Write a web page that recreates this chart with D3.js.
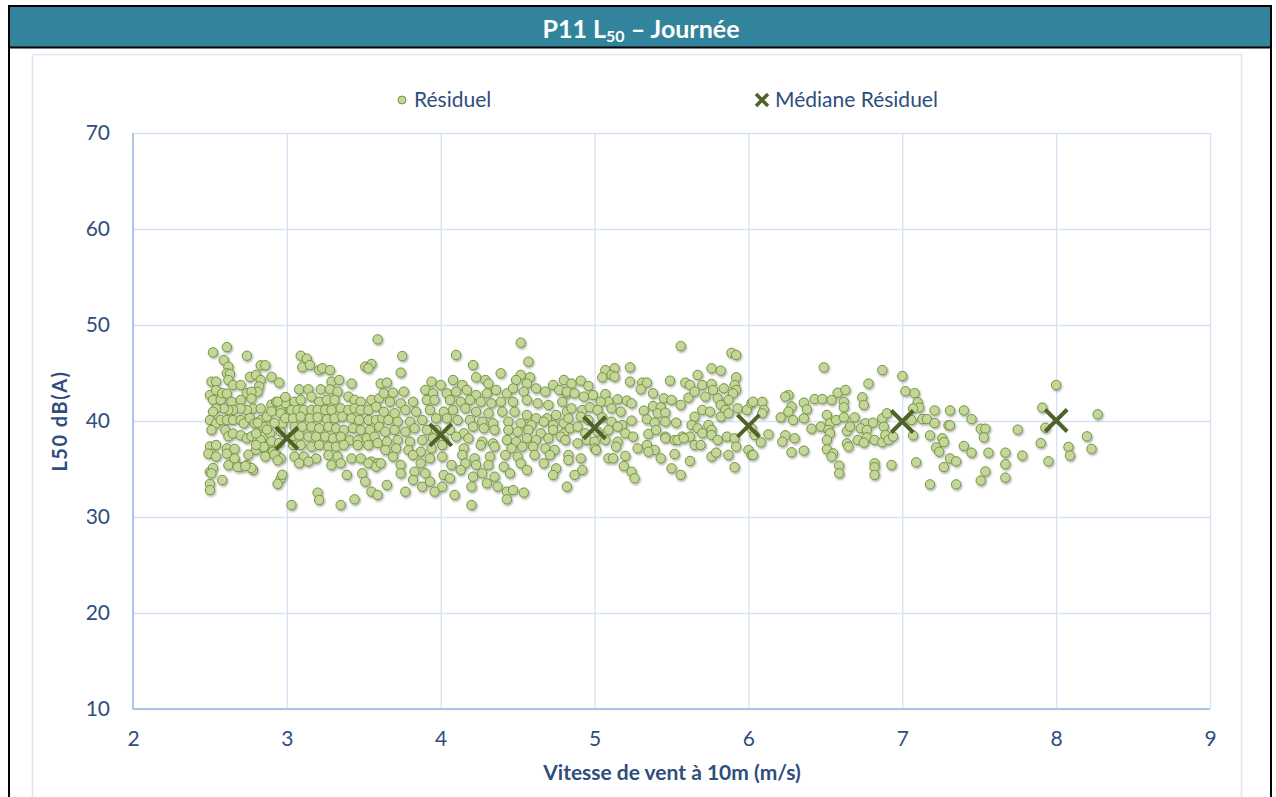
<!DOCTYPE html>
<html>
<head>
<meta charset="utf-8">
<script src="https://cdn.jsdelivr.net/npm/d3@7"></script>
<style>
  body { margin: 0; background: #fff; }
  text { font-family: Lato, "Open Sans", sans-serif; }
</style>
</head>
<body>
<div id="chart"></div>
<script>
// residual points, grouped by wind speed band [wind (m/s), L50 dB(A)]
var res25_30 = [
  [2.52,47.15],[2.61,47.7],[2.74,46.8],[2.59,46.35],[2.62,45.65],[2.61,44.97],[2.63,44.9],[2.62,44.27],[2.65,43.75],[2.70,43.75],
  [2.51,44.1],[2.54,44.1],[2.76,44.6],[2.80,44.8],[2.83,44.27],[2.82,43.6],[2.81,43.05],[2.83,45.8],[2.86,45.8],[2.90,44.6],[2.95,44.0],
  [2.50,42.7],[2.54,43.2],[2.52,42.2],[2.57,42.2],[2.58,42.9],[2.61,42.85],[2.64,42.0],[2.70,42.2],[2.74,42.9],[2.77,43.05],
  [2.77,42.35],[2.78,41.3],[2.74,41.15],[2.70,41.3],[2.65,41.15],[2.62,41.15],[2.59,41.3],[2.54,41.3],[2.52,40.97],
  [2.50,40.1],[2.54,39.75],[2.51,39.06],[2.57,40.1],[2.61,40.1],[2.65,40.1],[2.70,40.1],[2.72,39.75],[2.76,40.3],[2.79,39.75],
  [2.83,40.1],[2.85,39.4],[2.87,40.45],[2.83,41.3],[2.90,41.7],[2.93,42.0],[2.96,41.15],[2.99,41.85],[3.0,40.45],
  [2.60,39.06],[2.62,38.4],[2.65,38.7],[2.70,38.5],[2.74,38.2],[2.77,38.4],[2.81,38.0],[2.85,38.4],[2.89,38.7],[2.90,37.7],[2.96,38.9],[2.97,39.75],
  [2.50,37.35],[2.51,36.6],[2.49,36.6],[2.54,36.3],[2.61,37.15],[2.61,36.6],[2.54,37.5],[2.66,35.9],[2.70,35.2],[2.74,35.4],[2.78,34.9],
  [2.80,37.0],[2.85,37.15],[2.86,36.3],[2.91,36.8],[2.93,36.6],[2.96,36.1],
  [2.50,34.7],[2.52,35.1],[2.51,34.55],[2.50,33.45],[2.50,32.8],[2.58,33.85],[2.62,35.4],[2.68,35.2],[2.96,34.0],[2.97,34.4],[2.94,33.45],[3.03,31.25],
  [2.94,42.0],[2.99,42.5],[2.96,40.8],[2.90,41.0],[2.92,39.8],[2.99,40.3],[2.87,39.1],[2.83,38.0],[2.90,37.9],[2.85,37.3],[2.95,37.7],
  [2.92,36.5],[2.94,35.9],[2.80,37.5],[2.80,38.7],[2.81,39.8],[2.75,36.5],[2.77,35.1],[2.73,35.3],[2.66,36.1],[2.66,37.1]
];
var res30_36 = [
  [3.59,48.5],[3.09,46.8],[3.13,46.5],[3.10,45.6],[3.15,45.83],[3.21,45.3],[3.23,45.5],[3.28,45.3],[3.51,45.66],[3.55,45.94],[3.53,45.5],
  [3.08,43.3],[3.14,43.3],[3.22,43.3],[3.29,44.1],[3.34,44.27],[3.28,43.3],[3.33,43.06],[3.42,43.9],[3.61,43.9],
  [3.05,42.0],[3.09,42.2],[3.16,42.54],[3.21,42.0],[3.26,42.2],[3.31,42.2],[3.40,42.54],[3.44,42.2],[3.48,42.0],[3.55,42.2],[3.60,42.36],
  [3.03,41.15],[3.07,41.15],[3.11,41.15],[3.16,41.15],[3.20,41.15],[3.25,41.15],[3.29,41.15],[3.35,41.32],[3.40,41.15],[3.44,41.32],
  [3.48,41.15],[3.53,41.15],[3.58,41.5],
  [3.04,40.28],[3.09,40.45],[3.15,40.28],[3.20,40.38],[3.26,40.18],[3.31,40.28],[3.36,40.45],[3.42,40.28],[3.47,40.1],[3.53,40.1],[3.58,40.1],[3.62,40.28],
  [3.05,39.4],[3.10,39.4],[3.16,39.4],[3.21,39.24],[3.27,39.4],[3.32,39.24],[3.37,39.07],[3.43,39.24],[3.48,39.07],[3.54,39.07],[3.60,39.4],
  [3.03,38.37],[3.08,38.5],[3.14,38.37],[3.19,38.37],[3.25,38.37],[3.30,38.2],[3.35,38.37],[3.41,38.0],[3.46,38.0],[3.52,38.2],[3.57,38.37],
  [3.04,37.5],[3.09,37.5],[3.16,37.33],[3.21,37.5],[3.27,37.33],[3.32,37.33],[3.37,37.5],[3.46,37.5],[3.53,37.5],[3.59,37.7],
  [3.05,36.3],[3.11,36.3],[3.19,36.1],[3.27,36.46],[3.33,36.3],[3.42,36.1],[3.48,36.1],[3.55,35.77],[3.59,35.6],
  [3.08,35.6],[3.14,35.77],[3.29,35.4],[3.35,35.6],[3.53,35.6],[3.58,35.24],
  [3.39,34.38],[3.49,34.55],[3.51,33.68],[3.55,32.64],[3.59,32.3],[3.20,32.54],[3.21,31.77],[3.35,31.25],[3.44,31.84]
];
var res36_48 = [
  [4.52,48.16],[3.75,46.77],[4.10,46.88],[4.21,45.83],[4.57,46.18],[3.74,45.04],[4.39,44.97],[4.52,44.8],[4.58,44.55],[4.23,44.55],
  [3.65,44.0],[3.94,44.1],[4.0,43.75],[4.08,44.27],[4.14,43.75],[4.29,44.27],[4.31,43.9],[4.49,44.27],[4.56,43.9],[4.73,43.75],[4.80,44.27],
  [3.63,42.88],[3.69,42.95],[3.76,43.06],[3.90,43.23],[3.95,42.88],[4.04,42.88],[4.10,43.06],[4.17,43.23],[4.23,42.7],[4.30,42.88],
  [4.36,43.23],[4.43,42.88],[4.47,43.4],[4.54,43.06],[4.62,43.4],[4.68,43.06],[4.77,43.23],[4.82,42.88],
  [3.67,42.0],[3.74,41.84],[3.82,42.0],[3.91,42.19],[3.96,42.19],[4.06,42.19],[4.13,42.0],[4.19,42.19],[4.26,42.0],[4.33,41.84],
  [4.39,42.0],[4.47,42.0],[4.56,42.19],[4.63,41.84],[4.70,41.67],[4.79,42.0],
  [3.63,40.97],[3.70,40.8],[3.77,41.15],[3.84,40.97],[3.93,41.15],[4.02,40.97],[4.08,41.15],[4.16,41.32],[4.23,40.97],[4.31,40.8],
  [4.40,40.97],[4.48,40.97],[4.56,40.63],[4.62,40.28],[4.69,40.28],[4.75,40.63],[4.82,40.97],
  [3.66,40.1],[3.72,39.93],[3.80,39.93],[3.88,40.1],[3.97,40.28],[4.04,40.28],[4.11,40.1],[4.19,40.1],[4.27,39.93],[4.34,39.76],
  [4.44,39.93],[4.52,39.76],[4.59,39.58],[4.67,39.93],[4.73,39.58],[4.80,39.76],
  [3.64,38.89],[3.70,39.07],[3.77,38.89],[3.83,39.24],[3.91,39.07],[3.97,39.07],[4.06,39.07],[4.15,38.72],[4.21,39.41],[4.28,39.24],
  [4.35,39.07],[4.44,39.07],[4.50,38.89],[4.57,39.07],[4.65,38.72],[4.73,39.07],[4.80,38.72],
  [3.65,37.85],[3.72,38.02],[3.80,37.85],[3.88,38.02],[3.95,38.2],[4.02,38.02],[4.10,38.37],[4.18,38.2],[4.27,37.85],[4.34,37.67],
  [4.43,38.02],[4.49,37.85],[4.56,38.2],[4.62,38.02],[4.70,38.2],[4.78,38.37],
  [3.64,36.98],[3.71,37.15],[3.79,36.98],[3.87,36.8],[3.94,37.15],[4.01,37.5],[4.15,37.15],[4.26,37.5],[4.35,37.33],[4.46,37.15],
  [4.53,37.33],[4.60,37.33],[4.68,37.15],[4.74,36.98],
  [3.69,36.29],[3.82,36.46],[3.93,36.11],[4.01,36.29],[4.14,36.46],[4.22,36.11],[4.32,36.29],[4.42,36.46],[4.50,36.29],[4.61,36.46],[4.71,36.46],[4.83,36.46],
  [3.61,35.59],[3.74,35.42],[3.87,35.59],[4.07,35.42],[4.16,35.59],[4.23,35.42],[4.31,35.42],[4.41,35.24],[4.52,35.59],[4.67,35.59],[4.75,35.07],
  [3.74,34.55],[3.83,34.72],[3.90,34.55],[4.02,34.38],[4.06,34.03],[4.13,34.9],[4.21,34.2],[4.27,34.55],[4.35,34.2],[4.45,34.55],[4.56,34.9],[4.73,34.38],
  [3.65,33.34],[3.77,32.64],[3.82,33.86],[3.88,33.16],[3.96,32.64],[4.01,33.16],[4.09,32.3],[4.20,33.16],[4.30,33.51],[4.37,33.16],
  [4.43,32.64],[4.47,32.8],[4.54,32.54],[4.43,31.84],[4.20,31.25],[3.93,33.68],[4.82,33.16]
];
var res48_60 = [
  [5.56,47.8],[5.89,47.1],[5.92,46.88],[5.07,45.3],[5.13,45.49],[5.23,45.59],[5.76,45.49],[5.82,45.24],[5.05,44.55],[5.11,44.8],[5.13,44.62],[5.67,44.8],[5.92,44.55],
  [4.85,43.9],[4.91,44.2],[4.96,43.65],[5.23,44.1],[5.31,44.0],[5.34,44.0],[5.30,43.3],[5.49,44.2],[5.59,44.0],[5.62,43.75],[5.70,43.75],
  [5.76,43.85],[5.77,43.23],[5.84,43.4],[5.91,43.75],[5.92,43.23],[5.90,42.88],
  [4.82,43.06],[4.87,42.88],[4.93,42.54],[4.99,42.7],[5.07,42.8],[5.15,42.26],[5.21,42.12],[5.09,42.0],[5.04,42.0],[5.38,42.88],
  [5.45,42.36],[5.50,42.19],[5.56,41.67],[5.61,42.43],[5.65,43.06],[5.72,42.54],[5.80,42.36],[5.87,42.19],
  [4.85,41.32],[4.92,41.15],[4.97,41.43],[5.02,41.15],[5.11,41.32],[5.17,40.97],[5.24,41.84],[5.32,41.08],[5.38,41.56],[5.43,41.43],
  [5.41,40.8],[5.46,40.87],[5.65,40.45],[5.70,41.15],[5.75,40.97],[5.82,41.67],[5.85,41.15],[5.93,41.32],[5.99,41.15],[6.02,41.84],
  [4.83,40.28],[4.91,40.45],[4.96,40.1],[5.05,40.38],[5.11,39.93],[5.18,39.58],[5.24,40.04],[5.34,40.18],[5.39,39.83],[5.46,39.93],
  [5.53,39.83],[5.63,39.58],[5.67,39.24],[5.74,39.58],[5.82,40.45],[5.87,40.8],
  [4.84,39.24],[4.89,39.41],[4.94,38.72],[5.02,38.89],[5.09,39.07],[5.15,39.41],[5.20,38.72],[5.25,38.37],[5.35,38.65],[5.40,39.07],
  [5.46,38.37],[5.52,38.02],[5.57,38.37],[5.62,38.37],[5.70,38.72],[5.76,39.07],[5.86,38.37],[5.91,38.2],[6.02,39.24],
  [4.81,38.02],[4.89,37.67],[4.95,38.02],[5.0,37.85],[5.07,38.02],[5.15,37.85],[5.28,37.15],[5.34,37.5],[5.39,36.98],[5.46,38.2],
  [5.54,38.02],[5.58,38.2],[5.65,37.5],[5.69,37.5],[5.76,38.54],[5.80,38.02],
  [4.83,35.94],[4.91,36.11],[5.0,37.15],[5.01,36.98],[5.09,36.11],[5.14,37.33],[5.20,36.36],[5.12,36.11],[5.35,36.8],[5.43,36.11],
  [5.52,36.56],[5.62,35.84],[5.76,36.29],[5.79,36.7],[5.87,36.46],[5.92,37.33],[6.0,36.98],[6.02,36.46],
  [4.87,34.38],[4.92,34.9],[5.19,35.3],[5.24,34.72],[5.26,34.03],[5.50,35.07],[5.56,34.38],[5.91,35.18]
];
var res60_70 = [
  [6.49,45.59],[6.87,45.3],[7.0,44.69],[6.78,43.9],
  [6.26,42.7],[6.24,42.54],[6.28,41.5],[6.36,41.91],[6.43,42.29],[6.48,42.29],[6.54,42.19],[6.58,42.95],[6.63,43.23],[6.62,42.0],[6.62,41.43],[6.74,42.47],[6.75,41.67],
  [6.03,42.0],[6.09,42.0],[6.10,41.15],[6.09,40.8],[6.21,40.38],[6.26,40.97],[6.29,40.1],[6.36,40.28],[6.38,41.22],[6.41,39.2],[6.47,39.41],
  [6.51,40.63],[6.53,39.76],[6.57,40.1],[6.62,40.38],[6.69,40.38],[6.76,39.76],[6.81,39.83],[6.87,40.28],[6.90,40.8],[6.88,39.41],
  [6.04,38.54],[6.08,37.78],[6.13,38.61],[6.24,38.51],[6.22,37.85],[6.30,38.2],[6.52,39.07],[6.53,38.72],[6.64,38.96],[6.66,39.41],
  [6.73,39.24],[6.77,39.07],[6.77,38.3],[6.71,38.02],[6.75,37.75],[6.82,38.02],[6.87,37.78],[6.89,38.54],[6.91,38.02],[6.94,38.37],
  [6.64,37.67],[6.65,37.33],[6.51,38.02],[6.51,37.05],[6.55,36.63],[6.54,36.29],[6.28,36.74],[6.36,36.91],[6.03,36.46],
  [6.59,35.35],[6.59,34.55],[6.82,35.59],[6.82,35.18],[6.82,34.38],[6.93,35.42]
];
var res70_83 = [
  [7.02,43.1],[7.08,42.9],[7.10,41.95],[7.11,41.4],[7.07,41.3],[7.06,40.1],[7.07,38.5],[7.09,35.7],[7.13,40.2],[7.16,40.2],[7.18,38.5],[7.18,33.4],
  [7.21,41.1],[7.21,39.8],[7.30,39.55],[7.31,39.55],[7.26,38.2],[7.27,37.8],[7.40,37.4],[7.45,36.7],[7.22,37.25],[7.24,36.8],
  [7.31,36.1],[7.35,35.8],[7.27,35.2],[7.35,33.4],[7.31,41.1],[7.40,41.1],[7.45,40.2],
  [7.51,39.2],[7.54,39.2],[7.53,38.3],[7.56,36.7],[7.54,34.75],[7.51,33.8],
  [7.67,36.7],[7.67,35.5],[7.67,34.1],[7.75,39.1],[7.78,36.4],
  [8.0,43.75],[7.91,41.4],[8.27,40.7],[7.93,39.3],[7.90,37.7],[7.95,35.8],[8.08,37.3],[8.09,36.4],[8.20,38.4],[8.23,37.1]
];

// median of residual per wind speed
var medWind = [3, 4, 5, 6, 7, 8];
var medL50 = [38.2, 38.55, 39.3, 39.5, 39.95, 40.05];

var xTicks = [2, 3, 4, 5, 6, 7, 8, 9];
var yTicks = [10, 20, 30, 40, 50, 60, 70];

var W = 1276, H = 797;
var plot = {left: 133, right: 1210, top: 133, bottom: 709};
var axisColor = "#2f4d7d";

var svg = d3.select("#chart").append("svg")
  .attr("width", W).attr("height", H);

var defs = svg.append("defs");
var f = defs.append("filter").attr("id", "shadow")
  .attr("x", "-50%").attr("y", "-50%").attr("width", "200%").attr("height", "200%");
f.append("feDropShadow").attr("dx", 1).attr("dy", 1.5).attr("stdDeviation", 0.9)
  .attr("flood-color", "#000").attr("flood-opacity", 0.35);

// outer frame + title bar
svg.append("rect").attr("x", 9).attr("y", 6).attr("width", 1262).attr("height", 41)
  .attr("fill", "#31849b");
svg.append("rect").attr("x", 9).attr("y", 6).attr("width", 1262).attr("height", 800)
  .attr("fill", "none").attr("stroke", "#000").attr("stroke-width", 2);
svg.append("line").attr("x1", 9).attr("x2", 1271).attr("y1", 47.5).attr("y2", 47.5)
  .attr("stroke", "#000").attr("stroke-width", 2);

var title = svg.append("text").attr("x", 641).attr("y", 38)
  .attr("text-anchor", "middle").attr("fill", "#fff")
  .attr("font-size", 25).attr("font-weight", "bold");
title.append("tspan").text("P11 L");
title.append("tspan").attr("font-size", 16).attr("dy", 4).text("50");
title.append("tspan").attr("dy", -4).text(" \u2013 Journée");

// chart area
svg.append("rect").attr("x", 32.5).attr("y", 54.5).attr("width", 1209).attr("height", 760)
  .attr("fill", "#fff").attr("stroke", "#dce6f2").attr("stroke-width", 1.5);

var x = d3.scaleLinear().domain([2, 9]).range([plot.left, plot.right]);
var y = d3.scaleLinear().domain([10, 70]).range([plot.bottom, plot.top]);

// grid
var gx = svg.append("g")
  .attr("transform", "translate(0," + plot.bottom + ")")
  .call(d3.axisBottom(x).tickValues(xTicks).tickSize(-(plot.bottom - plot.top)).tickFormat(""));
var gy = svg.append("g")
  .attr("transform", "translate(" + plot.left + ",0)")
  .call(d3.axisLeft(y).tickValues(yTicks).tickSize(-(plot.right - plot.left)).tickFormat(""));
[gx, gy].forEach(function(g) {
  g.select(".domain").remove();
  g.selectAll(".tick line").attr("stroke", "#d6e2f3").attr("stroke-width", 1.3);
});

// axis lines
svg.append("line").attr("x1", plot.left).attr("x2", plot.left)
  .attr("y1", plot.top).attr("y2", plot.bottom + 1)
  .attr("stroke", "#adc5e7").attr("stroke-width", 2);
svg.append("line").attr("x1", plot.left).attr("x2", plot.right)
  .attr("y1", plot.bottom).attr("y2", plot.bottom)
  .attr("stroke", "#adc5e7").attr("stroke-width", 2);

// tick labels
var lx = svg.append("g")
  .attr("transform", "translate(0," + plot.bottom + ")")
  .call(d3.axisBottom(x).tickValues(xTicks).tickSize(0).tickPadding(22).tickFormat(d3.format("d")));
var ly = svg.append("g")
  .attr("transform", "translate(" + plot.left + ",0)")
  .call(d3.axisLeft(y).tickValues(yTicks).tickSize(0).tickPadding(23).tickFormat(d3.format("d")));
[lx, ly].forEach(function(g) {
  g.select(".domain").remove();
  g.selectAll("text").attr("font-family", "Lato, sans-serif")
    .attr("font-size", 21).attr("fill", axisColor);
});

// axis titles
svg.append("text").attr("x", 672).attr("y", 780).attr("text-anchor", "middle")
  .attr("font-size", 21).attr("font-weight", "bold").attr("fill", axisColor)
  .text("Vitesse de vent à 10m (m/s)");
svg.append("text").attr("transform", "translate(67,421) rotate(-90)")
  .attr("text-anchor", "middle")
  .attr("font-size", 20).attr("font-weight", "bold").attr("fill", axisColor)
  .attr("letter-spacing", 1.5)
  .text("L50 dB(A)");

// residual points
var allPts = res25_30.concat(res30_36, res36_48, res48_60, res60_70, res70_83);
svg.append("g").attr("filter", "url(#shadow)")
  .selectAll("circle").data(allPts).enter().append("circle")
  .attr("cx", function(d) { return x(d[0]); })
  .attr("cy", function(d) { return y(d[1]); })
  .attr("r", 4.7)
  .attr("fill", "#c4d79b").attr("stroke", "#77933c").attr("stroke-width", 1);

// median markers
var xMark = function(cx, cy, s) {
  return "M" + (cx - s) + "," + (cy - s) + "L" + (cx + s) + "," + (cy + s) +
         "M" + (cx - s) + "," + (cy + s) + "L" + (cx + s) + "," + (cy - s);
};
svg.append("g").selectAll("path").data(medWind).enter().append("path")
  .attr("d", function(d, i) { return xMark(x(d), y(medL50[i]), 11); })
  .attr("stroke", "#4f6228").attr("stroke-width", 4).attr("fill", "none");

// legend
svg.append("circle").attr("cx", 402).attr("cy", 100).attr("r", 4)
  .attr("fill", "#c4d79b").attr("stroke", "#77933c").attr("stroke-width", 1);
svg.append("text").attr("x", 414).attr("y", 107).attr("font-size", 21).attr("fill", axisColor)
  .text("Résiduel");
svg.append("path").attr("d", xMark(762, 100, 6))
  .attr("stroke", "#4f6228").attr("stroke-width", 3.5).attr("fill", "none");
svg.append("text").attr("x", 775).attr("y", 107).attr("font-size", 21).attr("fill", axisColor)
  .text("Médiane Résiduel");
</script>
</body>
</html>
